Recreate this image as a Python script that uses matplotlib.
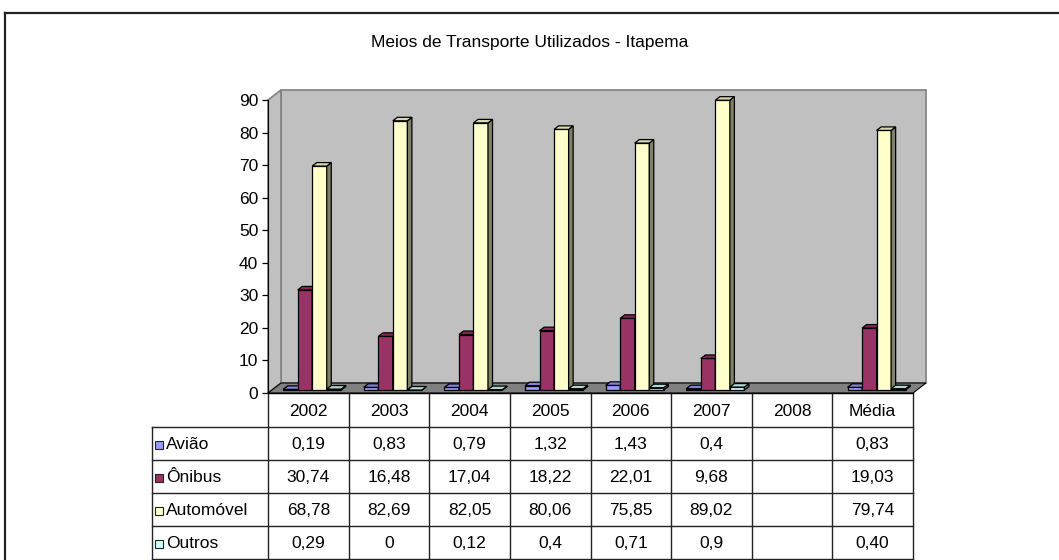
import matplotlib
matplotlib.use("Agg")
import matplotlib.pyplot as plt
from matplotlib.patches import Polygon, Rectangle
import numpy as np

plt.rcParams['font.family'] = ['Liberation Sans', 'DejaVu Sans']

# ---------------- data ----------------
title = "Meios de Transporte Utilizados - Itapema"
categories = ["2002", "2003", "2004", "2005", "2006", "2007", "2008", "Média"]
series_names = ["Avião", "Ônibus", "Automóvel", "Outros"]
aviao = [0.19, 0.83, 0.79, 1.32, 1.43, 0.4, None, 0.83]
onibus = [30.74, 16.48, 17.04, 18.22, 22.01, 9.68, None, 19.03]
automovel = [68.78, 82.69, 82.05, 80.06, 75.85, 89.02, None, 79.74]
outros = [0.29, 0, 0.12, 0.4, 0.71, 0.9, None, 0.40]
series_values = [aviao, onibus, automovel, outros]
colors = ["#9999FF", "#993366", "#FFFFCC", "#CCFFFF"]
yticks = list(range(0, 91, 10))

# ---------------- layout (pixels) ----------------
W, H = 1059, 560
ax_left, ax_right = 268, 913
ax_bottom, ax_top = 393, 100
fig = plt.figure(figsize=(W / 100, H / 100), dpi=100)

# overlay axes in pixel coordinates (frame, table)
ov = fig.add_axes([0, 0, 1, 1], zorder=0)
ov.set_xlim(0, W)
ov.set_ylim(H, 0)
ov.axis("off")

ax = fig.add_axes([ax_left / W, (H - ax_bottom) / H,
                   (ax_right - ax_left) / W, (ax_bottom - ax_top) / H], zorder=1)
ax.patch.set_alpha(0)
ncat = len(categories)
ax.set_xlim(0, ncat)
ax.set_ylim(0, 90)

px_x = (ax_right - ax_left) / ncat
px_y = (ax_bottom - ax_top) / 90.0
DX = 13 / px_x   # depth offset in category units
DY = 10 / px_y   # depth offset in value units


def shade(c, f):
    r, g, b = matplotlib.colors.to_rgb(c)
    return (r * f, g * f, b * f)


# walls and floor
wall = "#C0C0C0"
ax.add_patch(Polygon([(DX, DY), (ncat + DX, DY), (ncat + DX, 90 + DY), (DX, 90 + DY)],
                     closed=True, fc=wall, ec="#808080", lw=1.2, zorder=0.5, clip_on=False))
ax.add_patch(Polygon([(0, 0), (DX, DY), (DX, 90 + DY), (0, 90)],
                     closed=True, fc=wall, ec="#808080", lw=1.2, zorder=0.5, clip_on=False))
ax.add_patch(Polygon([(0, 0), (ncat, 0), (ncat + DX, DY), (DX, DY)],
                     closed=True, fc="#808080", ec="black", lw=0.8, zorder=0.6, clip_on=False))

# bars
gap = 0.14
bw = 0.18
d0, d1 = 0.3, 0.65
z = 2
for i in range(ncat):
    for k, vals in enumerate(series_values):
        v = vals[i]
        if v is None:
            continue
        x0 = i + gap + k * bw + d0 * DX
        y0 = d0 * DY
        dd = (d1 - d0)
        c = colors[k]
        # front
        ax.bar(x0, v, width=bw, bottom=y0, align="edge", color=c, edgecolor="black",
               linewidth=0.9, zorder=z, clip_on=False)
        # right side
        ax.add_patch(Polygon([(x0 + bw, y0), (x0 + bw + dd * DX, y0 + dd * DY),
                              (x0 + bw + dd * DX, y0 + v + dd * DY), (x0 + bw, y0 + v)],
                             closed=True, fc=shade(c, 0.5), ec="black", lw=0.9,
                             zorder=z, clip_on=False))
        # top
        ax.add_patch(Polygon([(x0, y0 + v), (x0 + bw, y0 + v),
                              (x0 + bw + dd * DX, y0 + v + dd * DY), (x0 + dd * DX, y0 + v + dd * DY)],
                             closed=True, fc=shade(c, 0.85), ec="black", lw=0.9,
                             zorder=z, clip_on=False))
        z += 0.01

# axes styling
for s in ["top", "right"]:
    ax.spines[s].set_visible(False)
ax.spines["left"].set_color("black")
ax.spines["bottom"].set_color("black")
ax.spines["left"].set_zorder(5)
ax.spines["bottom"].set_zorder(5)
ax.set_yticks(yticks)
ax.set_yticklabels([str(t) for t in yticks], fontsize=12.5)
ax.tick_params(axis="y", direction="out", length=4, width=0.9, pad=3, colors="black")
ax.set_xticks([])

# title
fig.text(530 / W, 1 - 42 / H, title, ha="center", va="center", fontsize=12.5)

# outer frame (cut off at right and bottom)
ov.plot([5, 5], [13, H], color="#222222", lw=1.6)
ov.plot([5, W], [13, 13], color="#222222", lw=1.6)

# ---------------- data table ----------------
lab_left = 152
header_top = ax_bottom
row_edges = [393, 427, 460, 493, 526, 559]
col_edges = [ax_left + j * px_x for j in range(ncat + 1)]
lc = "#222222"
lw = 1.0
ov.plot([ax_left, ax_right], [header_top, header_top], color=lc, lw=lw)
for y in row_edges[1:]:
    ov.plot([lab_left, ax_right], [y, y], color=lc, lw=lw)
ov.plot([lab_left, lab_left], [row_edges[1], row_edges[-1]], color=lc, lw=lw)
for x in col_edges:
    ov.plot([x, x], [row_edges[0], row_edges[-1]], color=lc, lw=lw)

fs = 12.5
for j, cat in enumerate(categories):
    ov.text((col_edges[j] + col_edges[j + 1]) / 2, (row_edges[0] + row_edges[1]) / 2 + 1,
            cat, ha="center", va="center", fontsize=fs)


def fmt(v, is_avg):
    if v is None:
        return ""
    s = f"{v:.2f}" if is_avg else f"{v:g}"
    return s.replace(".", ",")


for r, (name, vals) in enumerate(zip(series_names, series_values)):
    yc = (row_edges[r + 1] + row_edges[r + 2]) / 2 + 1
    ov.add_patch(Rectangle((155, yc - 4), 8, 8, fc=colors[r], ec="#222222", lw=0.8))
    ov.text(166, yc, name, ha="left", va="center", fontsize=fs)
    for j in range(ncat):
        ov.text((col_edges[j] + col_edges[j + 1]) / 2, yc,
                fmt(vals[j], categories[j] == "Média"), ha="center", va="center", fontsize=fs)

fig.savefig("out.png", dpi=100, facecolor="white")
